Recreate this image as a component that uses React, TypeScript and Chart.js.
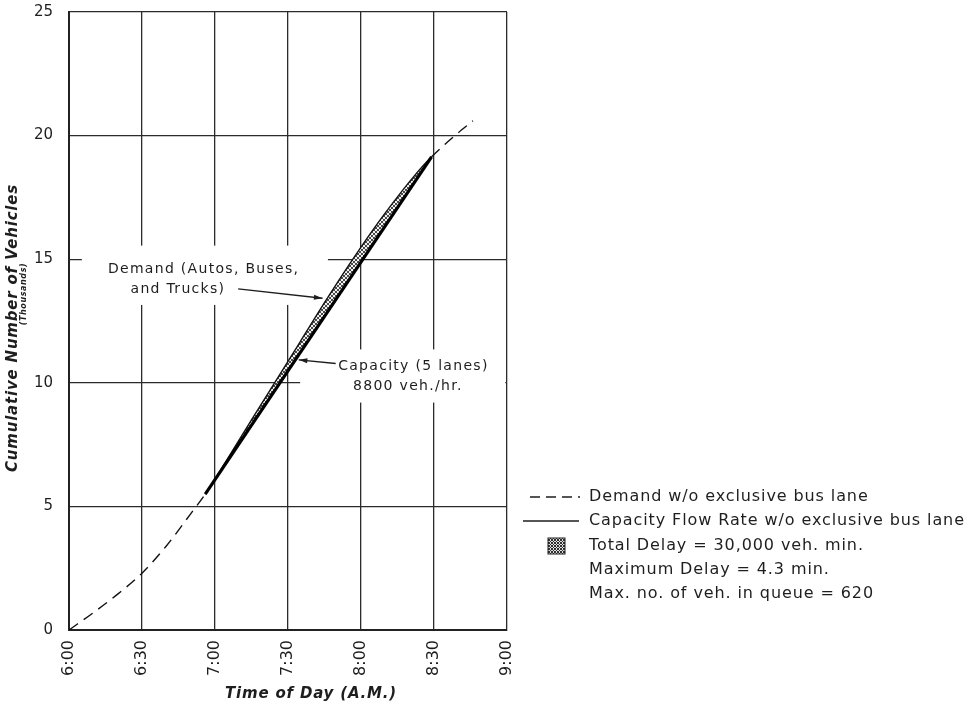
import { useEffect, useRef } from "react";
import Chart from "chart.js/auto";

// Time axis: minutes after 6:00 A.M.
const timeTicks = [0, 30, 60, 90, 120, 150, 180];
const timeLabels = ["6:00", "6:30", "7:00", "7:30", "8:00", "8:30", "9:00"];
const vehicleStep = 5;
const vehicleMax = 25;

// Cumulative demand (thousands of vehicles) vs minutes after 6:00
const demandMinutes = [0, 10, 20, 30, 40, 50, 56, 65, 75, 85, 95, 105, 115, 125, 135, 142, 149, 158, 166];
const demandVehicles = [0, 0.7, 1.45, 2.3, 3.4, 4.7, 5.5, 6.9, 8.5, 10.08, 11.66, 13.24, 14.76, 16.2, 17.52, 18.38, 19.14, 19.95, 20.6];

// Capacity flow (5 lanes, 8800 veh./hr.) while the queue exists
const capacityMinutes = [56, 149];
const capacityVehicles = [5.5, 19.14];
const queueStart = 56;
const queueEnd = 149;

const demandNote = ["Demand (Autos, Buses,", "and Trucks)"];
const capacityNote = ["Capacity (5 lanes)", "8800 veh./hr."];
const legendLines = [
  "Demand w/o exclusive bus lane",
  "Capacity Flow Rate w/o exclusive bus lane",
  "Total Delay = 30,000 veh. min.",
  "Maximum Delay = 4.3 min.",
  "Max. no. of veh. in queue = 620",
];
const xTitle = "Time of Day (A.M.)";
const yTitle = "Cumulative Number of Vehicles";
const yUnits = "(Thousands)";

const FONT = "'DejaVu Sans', 'Liberation Sans', sans-serif";
const INK = "#1e1e1e";

function hatchPattern(bg: string, fg: string, size: number) {
  const c = document.createElement("canvas");
  c.width = size;
  c.height = size;
  const g = c.getContext("2d")!;
  g.fillStyle = bg;
  g.fillRect(0, 0, size, size);
  g.strokeStyle = fg;
  g.lineWidth = 1;
  g.beginPath();
  g.moveTo(0, 0);
  g.lineTo(size, size);
  g.moveTo(size, 0);
  g.lineTo(0, size);
  g.stroke();
  return g.createPattern(c, "repeat")!;
}

function arrow(ctx: CanvasRenderingContext2D, x0: number, y0: number, x1: number, y1: number) {
  ctx.beginPath();
  ctx.moveTo(x0, y0);
  ctx.lineTo(x1, y1);
  ctx.stroke();
  const a = Math.atan2(y1 - y0, x1 - x0);
  const L = 9;
  const w = 0.28;
  ctx.beginPath();
  ctx.moveTo(x1, y1);
  ctx.lineTo(x1 - L * Math.cos(a - w), y1 - L * Math.sin(a - w));
  ctx.lineTo(x1 - L * Math.cos(a + w), y1 - L * Math.sin(a + w));
  ctx.closePath();
  ctx.fill();
}

export default function App() {
  const ref = useRef<HTMLCanvasElement>(null);

  useEffect(() => {
    const canvas = ref.current!;
    const bandFill = hatchPattern("#f0f0f0", "#4a4a4a", 4);
    const keyFill = hatchPattern("#e0e0e0", "#303030", 3);

    // blank-outs behind the note lettering (minutes, thousands)
    const gridGaps = [
      { t0: 5.3, t1: 106.4, v0: 13.15, v1: 15.55 },
      { t0: 95, t1: 179.3, v0: 9.2, v1: 11.35 },
    ];

    const notesPlugin = {
      id: "notes",
      beforeDatasetsDraw(chart: any) {
        const { ctx, scales } = chart;
        const xs = scales.x;
        const ys = scales.y;
        ctx.save();
        ctx.fillStyle = "#ffffff";
        for (const g of gridGaps) {
          const x0 = xs.getPixelForValue(g.t0);
          const x1 = xs.getPixelForValue(g.t1);
          const y0 = ys.getPixelForValue(g.v1);
          const y1 = ys.getPixelForValue(g.v0);
          ctx.fillRect(x0, y0, x1 - x0, y1 - y0);
        }
        ctx.restore();
      },
      afterDraw(chart: any) {
        const { ctx, scales } = chart;
        const X = (t: number) => scales.x.getPixelForValue(t);
        const Y = (v: number) => scales.y.getPixelForValue(v);
        ctx.save();
        ctx.fillStyle = INK;
        ctx.strokeStyle = INK;
        ctx.textBaseline = "middle";
        ctx.textAlign = "left";

        // notes inside the plot
        ctx.font = `14px ${FONT}`;
        (ctx as any).letterSpacing = "1.3px";
        ctx.fillText(demandNote[0], X(16), Y(14.6));
        ctx.fillText(demandNote[1], X(25.3), Y(13.78));
        ctx.fillText(capacityNote[0], X(110.6), Y(10.65));
        ctx.fillText(capacityNote[1], X(116.7), Y(9.84));
        ctx.lineWidth = 1.3;
        arrow(ctx, X(69.5), Y(13.8), X(104.2), Y(13.42));
        arrow(ctx, X(109.6), Y(10.78), X(94.4), Y(10.93));

        // axis titles
        ctx.font = `italic bold 15px ${FONT}`;
        (ctx as any).letterSpacing = "0.8px";
        ctx.textAlign = "center";
        ctx.fillText(xTitle, 311, 694);
        ctx.save();
        ctx.translate(13, 328);
        ctx.rotate(-Math.PI / 2);
        ctx.fillText(yTitle, 0, 0);
        ctx.restore();
        ctx.save();
        ctx.font = `italic bold 8px ${FONT}`;
        (ctx as any).letterSpacing = "0.6px";
        ctx.translate(24, 294);
        ctx.rotate(-Math.PI / 2);
        ctx.fillText(yUnits, 0, 0);
        ctx.restore();

        // key
        ctx.textAlign = "left";
        ctx.font = `16px ${FONT}`;
        (ctx as any).letterSpacing = "0.9px";
        const tx = 589;
        const rows = [497, 521, 546, 570, 594];
        legendLines.forEach((s, i) => ctx.fillText(s, tx, rows[i]));
        ctx.lineWidth = 1.3;
        ctx.setLineDash([10, 6]);
        ctx.beginPath();
        ctx.moveTo(530, rows[0]);
        ctx.lineTo(580, rows[0]);
        ctx.stroke();
        ctx.setLineDash([]);
        ctx.lineWidth = 1.6;
        ctx.beginPath();
        ctx.moveTo(523, rows[1]);
        ctx.lineTo(579, rows[1]);
        ctx.stroke();
        ctx.fillStyle = keyFill;
        ctx.fillRect(548, 538, 17, 16);
        ctx.lineWidth = 1;
        ctx.strokeRect(548, 538, 17, 16);
        ctx.restore();
      },
    };

    const demandPts = demandMinutes.map((t, i) => ({ x: t, y: demandVehicles[i] }));
    const capacityPts = capacityMinutes.map((t, i) => ({ x: t, y: capacityVehicles[i] }));

    const chart = new Chart(canvas, {
      type: "line",
      data: {
        datasets: [
          {
            label: "Capacity",
            data: capacityPts,
            borderColor: "#000",
            borderWidth: 3.2,
            pointRadius: 0,
            fill: false,
            order: 0,
          },
          {
            label: "Demand",
            data: demandPts,
            borderColor: "#111",
            borderWidth: 1.4,
            pointRadius: 0,
            cubicInterpolationMode: "monotone",
            backgroundColor: bandFill,
            fill: { target: 0 },
            order: 1,
            segment: {
              borderDash: (c: any) =>
                c.p0.parsed.x >= queueStart && c.p1.parsed.x <= queueEnd ? [] : [11, 7],
            },
          } as any,
        ],
      },
      options: {
        responsive: false,
        devicePixelRatio: 1,
        animation: false,
        events: [],
        layout: { padding: { left: 0, top: 12, right: 463, bottom: 0 } },
        plugins: { legend: { display: false }, tooltip: { enabled: false } },
        scales: {
          x: {
            type: "linear",
            min: timeTicks[0],
            max: timeTicks[timeTicks.length - 1],
            afterBuildTicks: (s: any) => {
              s.ticks = timeTicks.map((v) => ({ value: v }));
            },
            afterFit: (s: any) => {
              s.height = 77;
              s.paddingLeft = 0;
              s.paddingRight = 0;
            },
            grid: { color: "#2b2b2b", lineWidth: 1.3, drawTicks: false },
            border: { display: true, color: "#222", width: 2 },
            ticks: {
              autoSkip: false,
              minRotation: 90,
              maxRotation: 90,
              padding: 10,
              color: INK,
              font: { family: FONT, size: 16 },
              callback: (v: any) => timeLabels[timeTicks.indexOf(Number(v))],
            },
          },
          y: {
            type: "linear",
            min: 0,
            max: vehicleMax,
            afterFit: (s: any) => {
              s.width = 69;
              s.paddingTop = 0;
              s.paddingBottom = 0;
            },
            grid: { color: "#2b2b2b", lineWidth: 1.3, drawTicks: false },
            border: { display: true, color: "#222", width: 2 },
            ticks: {
              stepSize: vehicleStep,
              padding: 16,
              color: INK,
              font: { family: FONT, size: 15 },
            },
          },
        },
      },
      plugins: [notesPlugin],
    } as any);

    return () => chart.destroy();
  }, []);

  return (
    <div style={{ position: "absolute", left: 0, top: 0, width: 970, height: 707, background: "#fff" }}>
      <canvas ref={ref} width={970} height={707} style={{ display: "block", width: 970, height: 707 }} />
    </div>
  );
}
